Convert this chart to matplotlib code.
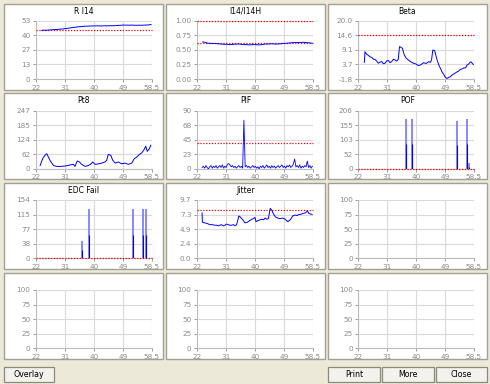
import numpy as np
import matplotlib
matplotlib.use('Agg')
import matplotlib.pyplot as plt
from matplotlib.patches import Rectangle

# ---------------- data ----------------
x_tick_labels = ["22", "31", "40", "49", "58.5"]
x_min, x_max = 22.0, 58.5

titles = ["R I14", "I14/I14H", "Beta", "Pt8", "PIF", "POF", "EDC Fail", "Jitter", "", "", "", ""]
y_ranges = [(0, 53), (0, 1.0), (-1.8, 20.0), (0, 247), (0, 90), (0, 206), (0, 154), (0, 9.7),
            (0, 100), (0, 100), (0, 100), (0, 100)]
y_tick_labels = [
    ["0", "13", "27", "40", "53"],
    ["0.00", "0.25", "0.50", "0.75", "1.00"],
    ["-1.8", "3.7", "9.1", "14.6", "20.0"],
    ["0", "62", "124", "185", "247"],
    ["0", "23", "45", "68", "90"],
    ["0", "52", "103", "155", "206"],
    ["0", "38", "77", "115", "154"],
    ["0.0", "2.4", "4.9", "7.3", "9.7"],
    ["0", "25", "50", "75", "100"],
    ["0", "25", "50", "75", "100"],
    ["0", "25", "50", "75", "100"],
    ["0", "25", "50", "75", "100"],
]
thresholds = [[44.8], [1.0, 0.61], [14.6], [], [40.5], [0.0], [0.0], [8.0], [], [], [], []]

ri14_x = [23.8, 24.5, 25.2, 26.5, 27.5, 28.5, 29.5, 30.5, 31.5, 32.5, 33.5, 34.5, 35.5, 36.5, 37.5,
          38.5, 39.5, 40.5, 41.5, 42.5, 43.5, 44.5, 45.5, 46.5, 47.5, 48.5, 49.5, 50.5, 51.5, 52.5,
          53.5, 54.5, 55.5, 56.5, 57.5, 58.3]
ri14_y = [44.2, 44.4, 44.3, 44.6, 44.9, 45.0, 45.3, 45.5, 45.9, 46.3, 46.8, 47.1, 47.5, 47.7, 48.0,
          48.1, 48.2, 48.3, 48.3, 48.2, 48.4, 48.3, 48.5, 48.4, 48.6, 48.8, 49.0, 49.0, 48.9, 49.0,
          48.8, 48.9, 48.9, 49.0, 49.2, 49.5]

ratio_x = ri14_x
ratio_y = [0.635, 0.63, 0.615, 0.61, 0.61, 0.605, 0.60, 0.595, 0.595, 0.59, 0.595, 0.60, 0.60, 0.59,
           0.59, 0.585, 0.59, 0.59, 0.585, 0.59, 0.60, 0.60, 0.605, 0.60, 0.60, 0.605, 0.61, 0.615,
           0.62, 0.625, 0.625, 0.625, 0.63, 0.625, 0.62, 0.615]

beta_x = [23.9, 24.1, 24.6, 25.2, 25.7, 26.3, 26.8, 27.3, 27.8, 28.3, 28.9, 29.4, 29.9, 30.4, 31.0,
          31.5, 32.0, 32.5, 33.1, 33.6, 34.1, 34.6, 35.0, 35.5, 35.9, 36.5, 37.1, 37.8, 38.6, 39.4,
          40.2, 41.0, 41.8, 42.6, 43.4, 44.2, 44.7, 45.1, 45.5, 46.1, 46.7, 47.4, 47.9, 48.4, 49.0,
          49.5, 50.0, 50.5, 51.0, 51.6, 52.4, 53.2, 53.7, 54.2, 54.8, 55.3, 55.8, 56.3, 56.8, 57.2,
          57.6, 57.9, 58.3]
beta_y = [4.4, 8.4, 7.5, 7.0, 6.5, 6.2, 5.6, 5.5, 4.9, 4.1, 4.5, 4.7, 3.9, 4.1, 5.0,
          5.1, 4.3, 4.7, 5.6, 5.3, 4.9, 5.5, 10.3, 10.0, 9.7, 7.2, 6.0, 5.3, 4.6, 4.1,
          3.8, 3.2, 3.6, 4.3, 4.0, 4.7, 4.4, 5.3, 9.0, 8.8, 5.9, 3.4, 2.2, 0.9, -0.2,
          -1.2, -1.6, -1.2, -1.0, -0.3, 0.3, 0.9, 1.2, 1.8, 2.0, 2.4, 2.3, 3.4, 3.8, 4.4,
          4.6, 4.1, 3.6]

pt8_x = [23.3, 24.1, 24.8, 25.4, 25.9, 26.4, 27.5, 28.5, 29.6, 30.6, 31.7, 32.7, 33.8, 34.3, 35.0,
         35.7, 36.4, 37.5, 38.5, 39.2, 39.9, 40.6, 41.7, 42.7, 43.8, 44.3, 44.8, 45.6, 46.2, 47.0,
         48.0, 49.0, 50.1, 51.1, 52.2, 53.0, 53.8, 54.6, 55.3, 56.1, 56.6, 57.1, 57.8, 58.2]
pt8_y = [14, 43, 57, 64, 50, 36, 14, 10, 10, 11, 13, 16, 19, 10, 33,
         29, 19, 10, 14, 19, 29, 19, 21, 24, 29, 36, 61, 57, 36, 24,
         29, 21, 24, 19, 24, 43, 50, 61, 67, 81, 96, 74, 86, 100]

pif_y = [2, 4, 1, 5, 2, 0, 3, 5, 1, 4, 2, 5, 1, 3, 5, 2, 6, 1, 4, 2, 7, 8, 6, 3, 5, 2, 4, 1, 3, 5,
         2, 4, 1, 75, 3, 5, 2, 4, 1, 3, 5, 2, 4, 1, 3, 0, 4, 2, 5, 1, 3, 6, 2, 4, 1, 5, 2, 4, 1, 3,
         5, 2, 4, 6, 2, 4, 1, 5, 3, 6, 2, 4, 7, 15, 3, 5, 2, 6, 1, 4, 2, 5, 3, 12, 2, 5, 1, 4]
pif_start, pif_step = 23.6, 0.4

pof_x = [37.0, 39.0, 53.2, 56.3, 57.0]
pof_peak = [175, 175, 169, 175, 20]
pof_core = [86, 86, 83, 86, 8]

edc_x = [36.6, 38.6, 52.7, 55.9, 56.6]
edc_peak = [46, 130, 130, 130, 130]
edc_core = [22, 62, 62, 62, 62]

jit_x = [23.6, 23.7, 24.4, 25.2, 26.0, 26.8, 27.6, 28.2, 28.7, 29.2, 29.7, 30.3, 30.8, 31.3, 31.8,
         32.4, 32.9, 33.5, 34.0, 34.5, 35.2, 35.6, 36.1, 36.6, 37.1, 37.9, 38.7, 39.3, 39.8, 40.3,
         40.6, 41.4, 42.4, 43.0, 43.5, 44.0, 44.5, 45.1, 45.6, 46.1, 46.7, 47.4, 48.2, 49.1, 49.8,
         50.6, 51.4, 52.2, 53.0, 53.6, 54.1, 54.6, 55.1, 55.7, 56.2, 56.9, 57.2, 57.6, 58.3]
jit_y = [7.56, 6.0, 5.9, 5.8, 5.6, 5.6, 5.5, 5.5, 5.4, 5.5, 5.6, 5.4, 5.5, 5.7, 5.6,
         5.5, 5.5, 5.6, 5.4, 5.6, 7.05, 6.9, 6.6, 6.3, 5.9, 6.0, 6.3, 6.5, 6.6, 6.8,
         6.1, 6.3, 6.5, 6.4, 6.7, 6.5, 6.6, 8.3, 8.0, 7.4, 6.9, 6.7, 6.6, 6.7, 6.5,
         6.1, 6.4, 7.05, 7.2, 7.1, 7.3, 7.3, 7.4, 7.5, 7.56, 7.9, 7.5, 7.4, 7.3]

buttons = ["Overlay", "Print", "More", "Close"]

# ---------------- layout ----------------
W, H = 490, 384
fig = plt.figure(figsize=(W / 100, H / 100), dpi=100)
fig.patch.set_facecolor('#ECE9D8')

def fx(x):
    return x / W

def fy(y):
    return 1 - y / H

frame_lefts = [4, 166, 328]
frame_w = 159
frame_tops = [4, 93, 183, 273]
frame_h = 86
ax_lefts = [36, 197, 358.3]
ax_w = 115.7
ax_tops = [20.7, 110.5, 200, 290]
ax_h = 58.3

BLUE = '#0000FF'
LIGHT_BLUE = '#7F7FFF'
RED = '#FF0000'
GRID = '#DADADA'
TICKC = '#8A8A8A'
FS = 5.2

x_ticks = [x_min + k * (x_max - x_min) / 4 for k in range(5)]

for i in range(12):
    r, c = divmod(i, 3)
    fl, ft = frame_lefts[c], frame_tops[r]
    fig.add_artist(Rectangle((fx(fl), fy(ft + frame_h)), frame_w / W, frame_h / H,
                             transform=fig.transFigure, facecolor='white',
                             edgecolor='#A29F94', lw=1.0, zorder=-2))
    ax = fig.add_axes([fx(ax_lefts[c]), fy(ax_tops[r] + ax_h), ax_w / W, ax_h / H])
    ax.set_facecolor('white')
    y0, y1 = y_ranges[i]
    ax.set_xlim(x_min, x_max)
    ax.set_ylim(y0, y1)
    ax.set_xticks(x_ticks)
    ax.set_xticklabels(x_tick_labels)
    ax.set_yticks([y0 + k * (y1 - y0) / 4 for k in range(5)])
    ax.set_yticklabels(y_tick_labels[i])
    ax.tick_params(axis='both', labelsize=FS, colors=TICKC, length=2.5, width=0.6, pad=1.5)
    ax.grid(True, color=GRID, lw=0.8)
    ax.set_axisbelow(True)
    for s in ['top', 'right']:
        ax.spines[s].set_visible(False)
    for s in ['left', 'bottom']:
        ax.spines[s].set_color('#BDBDBD')
        ax.spines[s].set_linewidth(0.8)
    if titles[i]:
        fig.text(fx(fl + frame_w / 2), fy(ft + 7.5), titles[i], ha='center', va='center',
                 fontsize=FS + 0.3, color='black')

    for t in thresholds[i]:
        ax.axhline(t, color=RED, lw=0.9, ls=(0, (1, 1.3)), zorder=3, clip_on=False)

    if i == 0:
        ax.plot(ri14_x, ri14_y, color=BLUE, lw=0.7, zorder=4)
    elif i == 1:
        ax.plot(ratio_x, ratio_y, color=BLUE, lw=0.7, zorder=4)
    elif i == 2:
        ax.plot(beta_x, beta_y, color=BLUE, lw=0.7, zorder=4)
    elif i == 3:
        ax.plot(pt8_x, pt8_y, color=BLUE, lw=0.7, zorder=4)
    elif i == 4:
        pif_x = [pif_start + k * pif_step for k in range(len(pif_y))]
        ax.plot(pif_x, pif_y, color=BLUE, lw=0.6, zorder=4)
    elif i == 5:
        ax.vlines(pof_x, 0, pof_peak, color=LIGHT_BLUE, lw=1.3, zorder=4)
        ax.vlines(pof_x, 0, pof_core, color=BLUE, lw=0.8, zorder=5)
    elif i == 6:
        ax.vlines(edc_x, 0, edc_peak, color=LIGHT_BLUE, lw=1.3, zorder=4)
        ax.vlines(edc_x, 0, edc_core, color=BLUE, lw=0.8, zorder=5)
    elif i == 7:
        ax.plot(jit_x, jit_y, color=BLUE, lw=0.7, zorder=4)

# buttons
btn_boxes = [(4, 54), (328, 380), (382, 434), (436, 487)]
for name, (bl, br) in zip(buttons, btn_boxes):
    fig.add_artist(Rectangle((fx(bl), fy(382)), (br - bl) / W, 15 / H,
                             transform=fig.transFigure, facecolor='#F3F2EC',
                             edgecolor='#8B887C', lw=0.9, zorder=-2))
    fig.text(fx((bl + br) / 2), fy(374.5), name, ha='center', va='center',
             fontsize=FS + 0.5, color='black')

fig.savefig('out.png', dpi=100, facecolor=fig.get_facecolor())
